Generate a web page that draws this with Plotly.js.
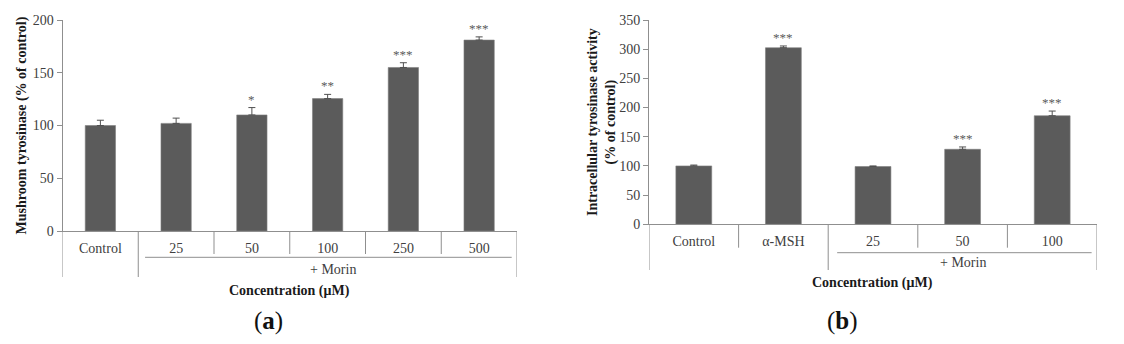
<!DOCTYPE html>
<html>
<head>
<meta charset="utf-8">
<script src="https://cdn.plot.ly/plotly-3.0.1.min.js"></script>
<style>html,body{margin:0;padding:0;background:#fff;}#chart{width:1124px;height:344px;}</style>
</head>
<body>
<div id="chart"></div>
<script>
// ---- Data: panel (a) mushroom tyrosinase ----
const catsA = ["Control", "25", "50", "100", "250", "500"];
const valsA = [100, 102, 110, 125.5, 155, 181];
const errA  = [5, 5, 7, 4, 4.5, 3];
const starsA = ["", "", "*", "**", "***", "***"];

// ---- Data: panel (b) intracellular tyrosinase ----
const catsB = ["Control", "α-MSH", "25", "50", "100"];
const valsB = [100, 302.5, 99, 128.5, 186];
const errB  = [1.5, 3, 1, 4, 8];
const starsB = ["", "***", "", "***", "***"];

const groupLabel = "+ Morin";
const xTitle = "Concentration (μM)";
const yTitleA = "Mushroom tyrosinase (% of control)";
const yTitleB = "Intracellular tyrosinase activity<br>(% of control)";

// ---- layout helpers ----
const W = 1124, H = 344;
const P = py => 1 - py / H;           // pixel row -> paper fraction
const serif = "Liberation Serif";
const barColor = "#5b5b5b";
const axisColor = "#8f8f8f";
const textColor = "#404040";

function barTrace(cats, vals, errs, xa, ya) {
  return {
    type: "bar", x: cats, y: vals, xaxis: xa, yaxis: ya, width: 0.4,
    marker: {color: barColor, line: {color: "#808080", width: 0.6}},
    error_y: {type: "data", symmetric: false, array: errs,
              arrayminus: errs.map(() => 0), color: "#505050", thickness: 1, width: 3.5},
    hoverinfo: "skip", showlegend: false
  };
}

const data = [
  barTrace(catsA, valsA, errA, "x", "y"),
  barTrace(catsB, valsB, errB, "x2", "y2")
];

function yAxis(domain, range, title, standoff) {
  return {
    domain: domain, range: range, dtick: 50, tick0: 0,
    showline: true, linecolor: axisColor, linewidth: 1,
    ticks: "outside", ticklen: 5, tickcolor: axisColor,
    showgrid: false, zeroline: false, fixedrange: true,
    tickfont: {family: serif, size: 14, color: textColor},
    title: {text: title, standoff: standoff,
            font: {family: serif, size: 14, color: "#1a1a1a", weight: "bold"}}
  };
}
function xAxis(domain, n, anchor) {
  return {
    domain: domain, range: [-0.5, n - 0.5], type: "category", anchor: anchor,
    showline: true, linecolor: axisColor, linewidth: 1,
    ticks: "", showgrid: false, zeroline: false, fixedrange: true,
    ticklabelstandoff: 4,
    tickfont: {family: serif, size: 14, color: textColor}
  };
}

const shapes = [];
const annotations = [];
function vline(xref, x, pyTop, pyBot) {
  shapes.push({type: "line", xref: xref, yref: "paper", x0: x, x1: x,
               y0: P(pyTop), y1: P(pyBot), line: {color: axisColor, width: 1}});
}
function hline(xref, xa, xb, py) {
  shapes.push({type: "line", xref: xref, yref: "paper", x0: xa, x1: xb,
               y0: P(py), y1: P(py), line: {color: axisColor, width: 1}});
}
function stars(xref, yref, cats, vals, errs, st) {
  cats.forEach((c, i) => {
    if (!st[i]) return;
    annotations.push({xref: xref, yref: yref, x: i, y: vals[i] + errs[i],
      text: st[i], showarrow: false, yanchor: "bottom", yshift: -1,
      font: {family: serif, size: 13, color: "#5a5a5a"}});
  });
}
function paperText(xref, x, py, text, size, bold, color) {
  annotations.push({xref: xref, yref: "paper", x: x, y: P(py), text: text,
    showarrow: false, yanchor: "middle", xanchor: "center",
    font: {family: serif, size: size, color: color || "#1a1a1a", weight: bold ? "bold" : "normal"}});
}

// panel (a) category frame
[1.5, 2.5, 3.5, 4.5].forEach(b => vline("x", b, 231, 254));
[-0.5, 0.5, 5.5].forEach(b => vline("x", b, 231, 277));
hline("x", 0.59, 5.43, 257.3);
paperText("x", 3.07, 269, groupLabel, 14, false, textColor);
paperText("x", 2.5, 291, xTitle, 14, true);
stars("x", "y", catsA, valsA, errA, starsA);

// panel (b) category frame
[0.5, 2.5, 3.5].forEach(b => vline("x2", b, 224.3, 247.7));
[-0.5, 1.5, 4.5].forEach(b => vline("x2", b, 224.3, 270));
hline("x2", 1.6, 4.44, 252.7);
paperText("x2", 3, 262.7, groupLabel, 14, false, textColor);
paperText("x2", 2, 283, xTitle, 14, true);
stars("x2", "y2", catsB, valsB, errB, starsB);

// panel letters
annotations.push({xref: "paper", yref: "paper", x: 268 / W, y: P(321), text: "(<b>a</b>)",
  showarrow: false, xanchor: "center", yanchor: "middle",
  font: {family: serif, size: 25, color: "#111"}});
annotations.push({xref: "paper", yref: "paper", x: 842 / W, y: P(321), text: "(<b>b</b>)",
  showarrow: false, xanchor: "center", yanchor: "middle",
  font: {family: serif, size: 25, color: "#111"}});

const layout = {
  width: W, height: H,
  margin: {l: 0, r: 0, t: 0, b: 0},
  paper_bgcolor: "#fff", plot_bgcolor: "#fff",
  showlegend: false,
  xaxis: xAxis([62.5 / W, 517 / W], catsA.length, "y"),
  yaxis: yAxis([P(231), P(20)], [0, 200], yTitleA, 2),
  xaxis2: xAxis([649 / W, 1097 / W], catsB.length, "y2"),
  yaxis2: Object.assign(yAxis([P(224.3), P(20)], [0, 350], yTitleB, 0), {anchor: "x2"}),
  shapes: shapes,
  annotations: annotations
};
layout.yaxis.anchor = "x";

Plotly.newPlot("chart", data, layout, {staticPlot: true, displayModeBar: false});
</script>
</body>
</html>
